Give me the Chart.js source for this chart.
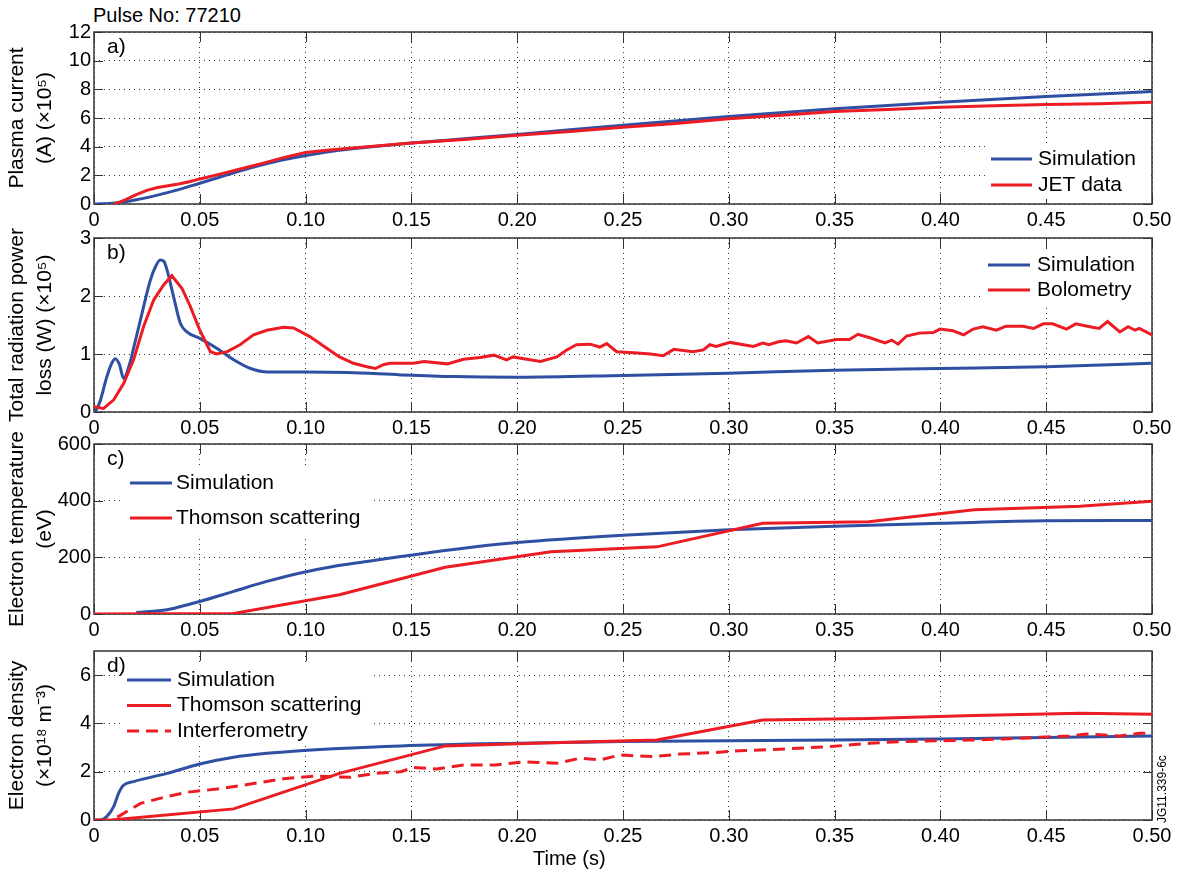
<!DOCTYPE html>
<html>
<head>
<meta charset="utf-8">
<script src="https://cdn.jsdelivr.net/npm/chart.js@4.4.1/dist/chart.umd.min.js"></script>
<style>
  body { margin: 0; background: #fff; font-family: "Liberation Sans", Arial, Helvetica, sans-serif; }
  #wrap { position: relative; width: 1184px; height: 877px; overflow: hidden; }
  canvas { position: absolute; left: 0; }
  .txt { position: absolute; font-size: 20px; color: #000; white-space: nowrap; line-height: 23px; }
  #jg { font-size: 12px; line-height: 14px; transform: rotate(-90deg); transform-origin: left top; }
</style>
</head>
<body>
<div id="wrap">
  <div class="txt" style="left:93px; top:4px;">Pulse No: 77210</div>
  <canvas id="chartA"></canvas>
  <canvas id="chartB"></canvas>
  <canvas id="chartC"></canvas>
  <canvas id="chartD"></canvas>
  <div class="txt" style="left:533px; top:847px;">Time (s)</div>
  <div class="txt" id="jg" style="left:1155px; top:823px;">JG11.339-6c</div>
</div>
<script>
// a) plasma current (x10^5 A)
const tCurrentSim = [0, 0.01, 0.02, 0.03, 0.04, 0.05, 0.06, 0.07, 0.08, 0.09, 0.10, 0.11, 0.12, 0.13, 0.15, 0.175, 0.20, 0.25, 0.30, 0.35, 0.40, 0.45, 0.50];
const currentSim = [0, 0.07, 0.3, 0.62, 1.0, 1.45, 1.9, 2.35, 2.75, 3.1, 3.38, 3.62, 3.82, 3.98, 4.25, 4.55, 4.85, 5.5, 6.1, 6.65, 7.1, 7.5, 7.85];
const tCurrentJet = [0.009, 0.015, 0.02, 0.025, 0.03, 0.035, 0.04, 0.045, 0.05, 0.06, 0.07, 0.08, 0.09, 0.10, 0.11, 0.125, 0.15, 0.175, 0.20, 0.225, 0.25, 0.275, 0.30, 0.325, 0.35, 0.375, 0.40, 0.425, 0.45, 0.475, 0.50];
const currentJet = [-0.05, 0.3, 0.65, 0.95, 1.15, 1.27, 1.4, 1.55, 1.75, 2.1, 2.48, 2.85, 3.25, 3.6, 3.75, 3.95, 4.25, 4.5, 4.8, 5.05, 5.35, 5.62, 5.95, 6.2, 6.45, 6.6, 6.75, 6.85, 6.95, 7.0, 7.1];

// b) total radiation power loss (x10^5 W)
const tRadSim = [0, 0.003, 0.006, 0.0085, 0.0101, 0.012, 0.014, 0.017, 0.0187, 0.0219, 0.0266, 0.029, 0.0313, 0.033, 0.0345, 0.0376, 0.0408, 0.0439, 0.05, 0.058, 0.066, 0.074, 0.082, 0.10, 0.12, 0.145, 0.17, 0.20, 0.25, 0.30, 0.35, 0.40, 0.45, 0.50];
const radSim = [-0.05, 0.2, 0.6, 0.85, 0.92, 0.82, 0.58, 0.85, 1.1, 1.58, 2.27, 2.5, 2.62, 2.6, 2.45, 1.99, 1.53, 1.38, 1.27, 1.1, 0.9, 0.75, 0.69, 0.69, 0.68, 0.64, 0.61, 0.6, 0.63, 0.67, 0.72, 0.75, 0.78, 0.84];
const tRadBolo = [0, 0.0045, 0.0093, 0.014, 0.0187, 0.0234, 0.0282, 0.0329, 0.0368, 0.0416, 0.0455, 0.05, 0.055, 0.058, 0.063, 0.069, 0.0754, 0.0817, 0.0896, 0.0943, 0.102, 0.110, 0.116, 0.1226, 0.129, 0.133, 0.137, 0.140, 0.151, 0.156, 0.167, 0.1746, 0.1825, 0.189, 0.195, 0.198, 0.2045, 0.211, 0.2187, 0.2234, 0.228, 0.2344, 0.239, 0.2423, 0.247, 0.255, 0.263, 0.269, 0.274, 0.283, 0.288, 0.291, 0.294, 0.3006, 0.3116, 0.316, 0.319, 0.3234, 0.327, 0.332, 0.3376, 0.342, 0.351, 0.357, 0.361, 0.3667, 0.3738, 0.377, 0.380, 0.384, 0.390, 0.3966, 0.3998, 0.406, 0.411, 0.4155, 0.420, 0.4265, 0.431, 0.439, 0.444, 0.4486, 0.453, 0.4596, 0.464, 0.4706, 0.475, 0.479, 0.4848, 0.4887, 0.492, 0.494, 0.50];
const radBolo = [0.09, 0.06, 0.21, 0.49, 0.9, 1.47, 1.93, 2.19, 2.35, 2.13, 1.82, 1.41, 1.04, 1.0, 1.04, 1.16, 1.33, 1.41, 1.46, 1.45, 1.3, 1.1, 0.95, 0.84, 0.78, 0.75, 0.82, 0.84, 0.84, 0.87, 0.83, 0.91, 0.94, 0.98, 0.90, 0.95, 0.91, 0.87, 0.95, 1.07, 1.16, 1.17, 1.12, 1.18, 1.04, 1.02, 1.0, 0.97, 1.08, 1.04, 1.07, 1.16, 1.13, 1.2, 1.13, 1.19, 1.16, 1.21, 1.23, 1.19, 1.30, 1.19, 1.25, 1.25, 1.34, 1.28, 1.19, 1.24, 1.17, 1.31, 1.36, 1.37, 1.43, 1.40, 1.33, 1.43, 1.47, 1.41, 1.48, 1.48, 1.44, 1.52, 1.52, 1.43, 1.52, 1.47, 1.44, 1.56, 1.38, 1.47, 1.41, 1.44, 1.33];

// c) electron temperature (eV)
const tTempSim = [0.02, 0.0345, 0.0423, 0.05, 0.066, 0.0817, 0.0975, 0.113, 0.129, 0.145, 0.17, 0.20, 0.25, 0.30, 0.35, 0.40, 0.45, 0.50];
const tempSim = [5, 15, 29, 44, 80, 115, 145, 168, 185, 203, 228, 252, 278, 297, 310, 320, 329, 330];
const tTempTs = [0, 0.066, 0.116, 0.166, 0.216, 0.266, 0.316, 0.366, 0.416, 0.466, 0.50];
const tempTs = [0, 2, 68, 165, 220, 237, 320, 326, 368, 380, 398];

// d) electron density (x10^18 m^-3)
const tDensSim = [0, 0.003, 0.006, 0.0093, 0.0116, 0.0137, 0.0187, 0.0345, 0.05, 0.066, 0.0817, 0.0975, 0.113, 0.145, 0.20, 0.25, 0.30, 0.35, 0.40, 0.45, 0.50];
const densSim = [0, 0, 0.14, 0.55, 1.1, 1.42, 1.59, 1.93, 2.32, 2.6, 2.76, 2.87, 2.95, 3.07, 3.18, 3.25, 3.28, 3.31, 3.36, 3.42, 3.48];
const tDensTs = [0, 0.008, 0.066, 0.116, 0.166, 0.216, 0.266, 0.316, 0.366, 0.416, 0.466, 0.50];
const densTs = [0, 0, 0.46, 1.93, 3.07, 3.2, 3.31, 4.14, 4.2, 4.33, 4.42, 4.38];
const tDensInt = [0.011, 0.022, 0.0345, 0.044, 0.058, 0.074, 0.0896, 0.105, 0.121, 0.135, 0.145, 0.151, 0.162, 0.1746, 0.19, 0.203, 0.2187, 0.2297, 0.239, 0.2486, 0.2643, 0.277, 0.2927, 0.305, 0.324, 0.348, 0.3667, 0.3824, 0.398, 0.414, 0.4297, 0.4453, 0.461, 0.469, 0.4848, 0.494, 0.50];
const densInt = [0.12, 0.69, 0.97, 1.15, 1.28, 1.49, 1.71, 1.82, 1.77, 1.95, 2.0, 2.18, 2.11, 2.28, 2.28, 2.41, 2.35, 2.56, 2.49, 2.69, 2.63, 2.73, 2.79, 2.87, 2.93, 3.04, 3.18, 3.25, 3.28, 3.31, 3.36, 3.42, 3.48, 3.56, 3.48, 3.59, 3.6];

const FONT = '"Liberation Sans", Arial, Helvetica, sans-serif';
const BLUE = '#2f4fa3';
const RED = '#ec1c24';
const PLOT_LEFT = 94, PLOT_RIGHT = 1152, PAD_TOP = 15, X_AXIS_H = 30;

function pts(ts, vs) {
  return ts.map((t, i) => ({ x: t, y: vs[i] }));
}

// frame, inward ticks, panel letter and in-plot legend
const panelDeco = {
  id: "panelDeco",
  beforeDatasetsDraw(chart) {
    const { ctx, chartArea: a, scales } = chart;
    ctx.save();
    ctx.strokeStyle = "#333";
    ctx.lineWidth = 1;
    ctx.beginPath();
    scales.x.ticks.forEach((t) => {
      const px = Math.round(scales.x.getPixelForValue(t.value)) + 0.5;
      ctx.moveTo(px, a.bottom); ctx.lineTo(px, a.bottom - 10);
      ctx.moveTo(px, a.top); ctx.lineTo(px, a.top + 10);
    });
    scales.y.ticks.forEach((t) => {
      if (t.label === null || t.label === undefined) return;
      const py = Math.round(scales.y.getPixelForValue(t.value)) + 0.5;
      ctx.moveTo(a.left, py); ctx.lineTo(a.left + 9, py);
      ctx.moveTo(a.right, py); ctx.lineTo(a.right - 9, py);
    });
    ctx.stroke();
    ctx.lineWidth = 1.5;
    ctx.strokeRect(a.left, a.top, a.right - a.left, a.bottom - a.top);
    ctx.restore();
  },
  afterDatasetsDraw(chart, args, opts) {
    const { ctx, chartArea: a } = chart;
    const off = opts.offset;
    const lg = opts.legend;
    ctx.save();
    ctx.fillStyle = "#fff";
    ctx.fillRect(lg.box[0], lg.box[1] - off, lg.box[2] - lg.box[0], lg.box[3] - lg.box[1]);
    ctx.font = "21px " + FONT;
    ctx.textBaseline = "middle";
    chart.data.datasets.forEach((ds, i) => {
      const y = lg.y0 + i * lg.dy - off;
      ctx.strokeStyle = ds.borderColor;
      ctx.lineWidth = ds.borderWidth;
      ctx.setLineDash(ds.borderDash || []);
      ctx.beginPath();
      ctx.moveTo(lg.x0, y); ctx.lineTo(lg.x1, y);
      ctx.stroke();
      ctx.setLineDash([]);
      ctx.fillStyle = "#000";
      ctx.fillText(ds.label, lg.tx, y);
    });
    ctx.fillText(opts.letter, 107, a.top + 15);
    ctx.restore();
  },
};

function makePanel(id, box, yAxis, datasets, legend, letter) {
  const canvas = document.getElementById(id);
  const top = box.top - PAD_TOP;
  canvas.width = 1184;
  canvas.height = Math.round(box.bottom - box.top) + PAD_TOP + X_AXIS_H;
  canvas.style.top = top + "px";
  return new Chart(canvas, {
    type: "line",
    data: { datasets: datasets },
    options: {
      responsive: false,
      animation: false,
      layout: { padding: { top: PAD_TOP, right: 1184 - PLOT_RIGHT, left: 0, bottom: 0 } },
      elements: { point: { radius: 0 } },
      plugins: {
        legend: { display: false },
        tooltip: { enabled: false },
        panelDeco: { offset: top, legend: legend, letter: letter },
      },
      scales: {
        x: {
          type: "linear",
          min: 0,
          max: 0.5,
          afterFit: (s) => { s.height = X_AXIS_H; },
          ticks: {
            stepSize: 0.05,
            autoSkip: false,
            maxRotation: 0,
            padding: 4,
            color: "#000",
            font: { family: FONT, size: 20 },
            callback: (v) => (v === 0 ? "0" : v.toFixed(2)),
          },
          grid: { color: "rgba(0,0,0,0.8)", lineWidth: 1, drawTicks: false },
          border: { display: false, dash: [1, 4] },
        },
        y: {
          min: yAxis.min,
          max: yAxis.max,
          afterFit: (s) => { s.width = PLOT_LEFT; },
          ticks: {
            stepSize: yAxis.step,
            padding: 3,
            color: "#000",
            font: { family: FONT, size: 20 },
            // only label whole steps (hides the extra 7 on panel d)
            callback: (v) => (Math.abs(v / yAxis.step - Math.round(v / yAxis.step)) < 1e-6 ? String(v) : null),
          },
          grid: { color: "rgba(0,0,0,0.8)", lineWidth: 1, drawTicks: false },
          border: { display: false, dash: [1, 4] },
          title: {
            display: true,
            text: yAxis.title,
            color: "#000",
            font: { family: FONT, size: 21, lineHeight: 1.3 },
            padding: { top: 4, bottom: 0 },
          },
        },
      },
    },
    plugins: [panelDeco],
  });
}

function simLine(label, data, mono) {
  return { label: label, data: data, borderColor: BLUE, borderWidth: 3, order: 1,
    cubicInterpolationMode: mono ? "monotone" : "default", tension: 0.4 };
}
function redLine(label, data, dash) {
  return { label: label, data: data, borderColor: RED, borderWidth: 3, order: 0,
    tension: 0, borderDash: dash };
}

makePanel("chartA", { top: 32, bottom: 204.3 },
  { min: 0, max: 12, step: 2, title: ["Plasma current", "(A) (\u00d710\u2075)"] },
  [simLine("Simulation", pts(tCurrentSim, currentSim), true),
   redLine("JET data", pts(tCurrentJet, currentJet))],
  { x0: 991, x1: 1032, tx: 1038, y0: 159, dy: 26, box: [985, 145, 1151, 199] }, "a)");

makePanel("chartB", { top: 238, bottom: 412 },
  { min: 0, max: 3, step: 1, title: ["Total radiation power", "loss (W) (\u00d710\u2075)"] },
  [simLine("Simulation", pts(tRadSim, radSim), true),
   redLine("Bolometry", pts(tRadBolo, radBolo))],
  { x0: 988, x1: 1030, tx: 1037, y0: 265, dy: 25, box: [982, 251, 1151, 304] }, "b)");

makePanel("chartC", { top: 444, bottom: 614.3 },
  { min: 0, max: 600, step: 200, title: ["Electron temperature", "(eV)"] },
  [simLine("Simulation", pts(tTempSim, tempSim), true),
   redLine("Thomson scattering", pts(tTempTs, tempTs))],
  { x0: 130, x1: 172, tx: 176, y0: 483, dy: 35, box: [124, 466, 372, 535] }, "c)");

makePanel("chartD", { top: 651, bottom: 820 },
  { min: 0, max: 7, step: 2, title: ["Electron density", "(\u00d710\u00b9\u2078 m\u207b\u00b3)"] },
  [simLine("Simulation", pts(tDensSim, densSim), true),
   redLine("Thomson scattering", pts(tDensTs, densTs)),
   redLine("Interferometry", pts(tDensInt, densInt), [12, 7])],
  { x0: 127, x1: 171, tx: 177, y0: 680, dy: 25.5, box: [121, 666, 370, 745] }, "d)");
</script>
</body>
</html>
